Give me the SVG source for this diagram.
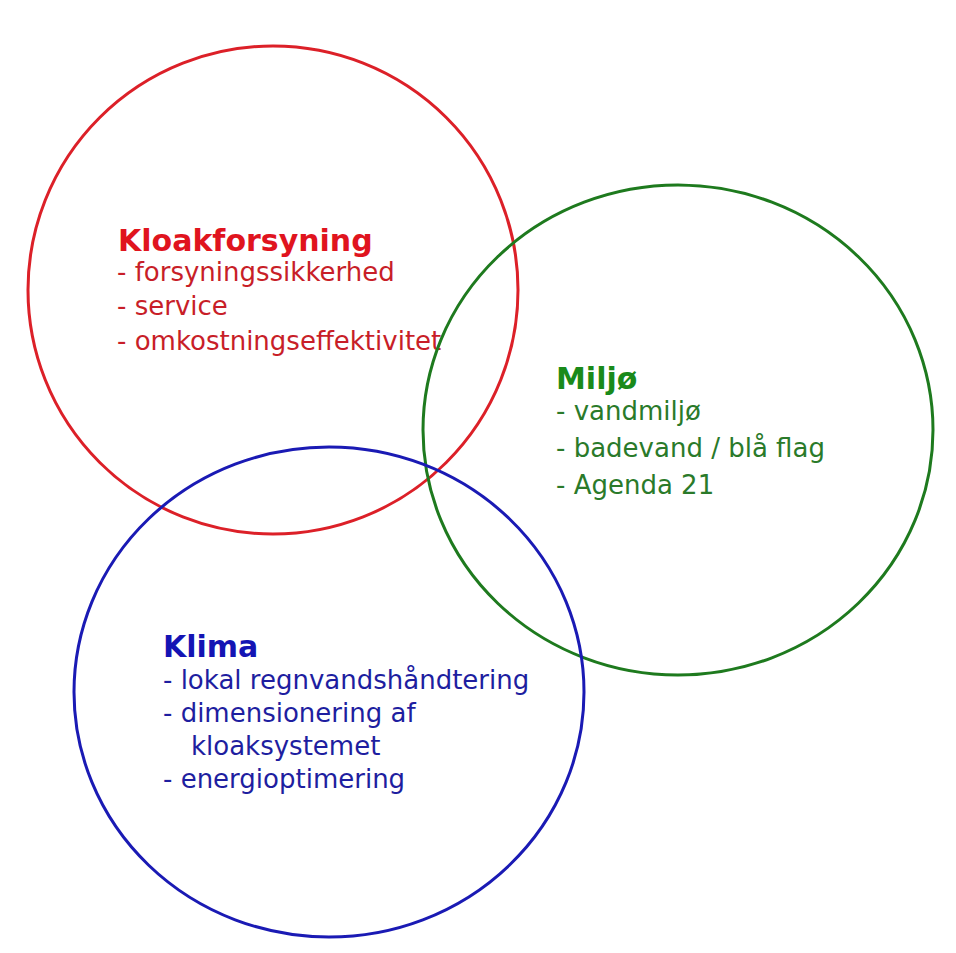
<svg xmlns="http://www.w3.org/2000/svg" width="956" height="953" viewBox="0 0 956 953">
<style>
.c{fill:none;stroke-width:3}
.t{font-family:"DejaVu Sans",Verdana,sans-serif;font-size:26px}
.h{font-family:"DejaVu Sans",Verdana,sans-serif;font-size:30px;font-weight:bold}
</style>
<rect width="956" height="953" fill="#ffffff"/>
<g id="kloak">
<ellipse class="c" cx="273" cy="290" rx="245" ry="244" stroke="#dc2028"/>
<text class="h" x="118" y="251" fill="#e0141e">Kloakforsyning</text>
<text class="t" x="117" y="281" fill="#c81e28">- forsyningssikkerhed</text>
<text class="t" x="117" y="315" fill="#c81e28">- service</text>
<text class="t" x="117" y="350" fill="#c81e28">- omkostningseffektivitet</text>
</g>
<g id="miljo">
<ellipse class="c" cx="678" cy="430" rx="255" ry="245" stroke="#1e7a1e"/>
<text class="h" x="556" y="389" fill="#1a8a1a">Miljø</text>
<text class="t" x="556" y="420" fill="#2a7a2a">- vandmiljø</text>
<text class="t" x="556" y="457" fill="#2a7a2a">- badevand / blå flag</text>
<text class="t" x="556" y="494" fill="#2a7a2a">- Agenda 21</text>
</g>
<g id="klima">
<ellipse class="c" cx="329" cy="692" rx="255" ry="245" stroke="#1a1ab4"/>
<text class="h" x="163" y="657" fill="#1414b4">Klima</text>
<text class="t" x="163" y="689" fill="#1e1ea0">- lokal regnvandshåndtering</text>
<text class="t" x="163" y="722" fill="#1e1ea0">- dimensionering af</text>
<text class="t" x="191" y="755" fill="#1e1ea0">kloaksystemet</text>
<text class="t" x="163" y="788" fill="#1e1ea0">- energioptimering</text>
</g>
<g id="connectors"/>
</svg>
